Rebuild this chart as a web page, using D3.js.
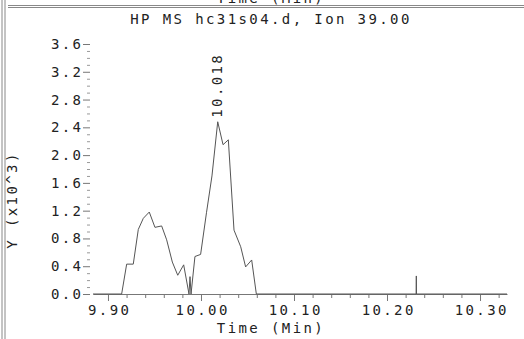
<!DOCTYPE html>
<html><head><meta charset="utf-8">
<script src="https://cdn.jsdelivr.net/npm/d3@7"></script>
<style>
body{margin:0;background:#fff;}
svg text{font-family:"DejaVu Sans Mono","Liberation Mono",monospace;font-size:14px;fill:#222;letter-spacing:2.4px;}
</style></head>
<body><svg id="c" width="524" height="339"></svg>
<script>
const title = "HP MS hc31s04.d, Ion 39.00";
const xLabel = "Time (Min)";
const yLabel = "Y (x10^3)";
const peakLabel = "10.018";
const peakTime = 10.018;
const times = [9.8839, 9.9147, 9.9201, 9.9272, 9.9326, 9.9380, 9.9444, 9.9505, 9.9577, 9.9631, 9.9692, 9.9750, 9.9814, 9.9871, 9.9882, 9.9893, 9.9935, 9.9996, 10.0059, 10.0118, 10.0180, 10.0237, 10.0294, 10.0355, 10.0427, 10.0480, 10.0545, 10.0595, 10.2313, 10.2315, 10.2317, 10.3290];
const values = [0, 0, 0.43, 0.43, 0.93, 1.09, 1.18, 0.96, 0.98, 0.78, 0.46, 0.27, 0.42, 0.0, 0.25, 0.0, 0.54, 0.57, 1.17, 1.70, 2.48, 2.15, 2.22, 0.92, 0.68, 0.39, 0.49, 0.0, 0.0, 0.26, 0.0, 0];
const xMajor = [9.90, 10.00, 10.10, 10.20, 10.30];
const xMajorLabels = ["9.90", "10.00", "10.10", "10.20", "10.30"];
const xMinor = [9.92,9.94,9.96,9.98,10.02,10.04,10.06,10.08,10.12,10.14,10.16,10.18,10.22,10.24,10.26,10.28,10.32];
const yMajor = [0.0, 0.4, 0.8, 1.2, 1.6, 2.0, 2.4, 2.8, 3.2, 3.6];
const yMajorLabels = ["0.0","0.4","0.8","1.2","1.6","2.0","2.4","2.8","3.2","3.6"];
const yMinor = [0.1,0.2,0.3,0.5,0.6,0.7,0.9,1.0,1.1,1.3,1.4,1.5,1.7,1.8,1.9,2.1,2.2,2.3,2.5,2.6,2.7,2.9,3.0,3.1,3.3,3.4,3.5];

const svg = d3.select("#c");
const x = d3.scaleLinear().domain([9.8839, 10.329]).range([93, 507]);
const y = d3.scaleLinear().domain([0, 3.6]).range([294, 44]);

// frame
svg.append("line").attr("x1",2).attr("x2",2).attr("y1",0).attr("y2",339).attr("stroke","#888");
svg.append("line").attr("x1",5).attr("x2",5).attr("y1",0).attr("y2",339).attr("stroke","#888");
svg.append("line").attr("x1",8).attr("x2",524).attr("y1",5.5).attr("y2",5.5).attr("stroke","#888");
svg.append("line").attr("x1",8).attr("x2",524).attr("y1",7.5).attr("y2",7.5).attr("stroke","#888");
svg.append("text").attr("x",271).attr("y",3).attr("text-anchor","middle").text(xLabel);

svg.append("text").attr("x",271).attr("y",24).attr("text-anchor","middle").text(title);

// x axis
const gx = svg.append("g").attr("transform","translate(0,294)")
  .call(d3.axisBottom(x).tickValues(xMajor).tickFormat((d,i)=>xMajorLabels[i]).tickSize(7).tickSizeOuter(0).tickPadding(4));
gx.select(".domain").attr("stroke","#777");
gx.selectAll(".tick line").attr("stroke","#777");
gx.selectAll("text").attr("dx","1.2px");
const gxm = svg.append("g").attr("transform","translate(0,294)")
  .call(d3.axisBottom(x).tickValues(xMinor).tickFormat("").tickSize(4).tickSizeOuter(0));
gxm.select(".domain").remove();
gxm.selectAll(".tick line").attr("stroke","#777");
svg.append("text").attr("x",271).attr("y",333).attr("text-anchor","middle").text(xLabel);

// y axis
const gy = svg.append("g").attr("transform","translate(90,0)")
  .call(d3.axisLeft(y).tickValues(yMajor).tickFormat((d,i)=>yMajorLabels[i]).tickSize(7).tickPadding(2));
gy.select(".domain").remove();
gy.selectAll(".tick line").attr("stroke","#777");
gy.selectAll("text").attr("dx","2.4px");
const gym = svg.append("g").attr("transform","translate(90,0)")
  .call(d3.axisLeft(y).tickValues(yMinor).tickFormat("").tickSize(3));
gym.select(".domain").remove();
gym.selectAll(".tick line").attr("stroke","#999");
svg.append("text").attr("transform","translate(17,200) rotate(-90)").attr("text-anchor","middle").text(yLabel);

// trace
const data = times.map((t,i)=>({t, v: values[i]}));
svg.append("path").datum(data)
  .attr("d", d3.line().x(d=>x(d.t)).y(d=>y(d.v)))
  .attr("fill","none").attr("stroke","#555").attr("stroke-width",1);

// peak label
const pv = values[times.indexOf(peakTime)];
svg.append("text").attr("transform",`translate(${x(peakTime)+4},${y(pv)-4}) rotate(-90)`)
  .attr("text-anchor","start").text(peakLabel);
</script></body></html>
